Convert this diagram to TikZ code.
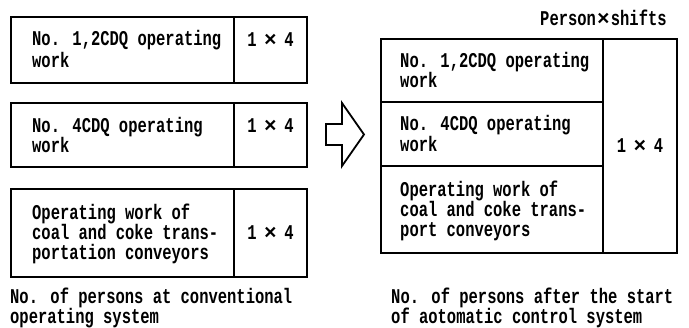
\documentclass[tikz,border=0pt]{standalone}
\usepackage{fontspec}
\setmainfont[FakeStretch=0.738]{Liberation Mono Bold}
\newfontfamily\xfont{Liberation Mono Bold}
\newlength\cw \setlength\cw{9.3pt}
\newcommand\mlines[2]{\vtop{\baselineskip=#1\lineskiplimit=-1000pt\lineskip=0pt\halign{##\hfil\cr #2\crcr}}}
\newcommand\tms[1]{\makebox[#1\cw]{\xfont\fontsize{21}{21}\selectfont ×}}
\begin{document}
\begin{tikzpicture}[x=1pt,y=-1pt,
  box/.style={draw,line width=1.8pt},
  divline/.style={draw,line width=1.4pt},
  txt/.style={anchor=base west,inner sep=0pt,font=\fontsize{21}{21}\selectfont},
  num/.style={anchor=base,inner sep=0pt,font=\fontsize{21}{21}\selectfont}]
\useasboundingbox (0,0) rectangle (689,328);
% left boxes
\draw[box] (11,17) rectangle (307,83);
\draw[divline] (234,17) -- (234,83);
\draw[box] (11,103) rectangle (307,167);
\draw[divline] (234,103) -- (234,167);
\draw[box] (11,189) rectangle (307,277);
\draw[divline] (234,189) -- (234,277);
\node[txt] (l1) at (32,46) {\mlines{22pt}{No. 1,2CDQ operating\cr work}};
\node[num] (l1n) at (270.5,46.5) {1\tms{3}4};
\node[txt] (l2) at (32,133) {\mlines{20pt}{No. 4CDQ operating\cr work}};
\node[num] (l2n) at (270.5,133) {1\tms{3}4};
\node[txt] (l3) at (32,220) {\mlines{20pt}{Operating work of\cr coal and coke trans-\cr portation conveyors}};
\node[num] (l3n) at (270.5,240) {1\tms{3}4};
% arrow
\draw[line width=1.8pt,line join=miter] (326,124) -- (342,124) -- (342,103) -- (364,134.5) -- (342,166) -- (342,145) -- (326,145) -- cycle;
% right box
\draw[box] (381,39) rectangle (677,253);
\draw[divline] (603,39) -- (603,253);
\draw[divline] (381,102) -- (603,102);
\draw[divline] (381,166) -- (603,166);
\node[txt] (r1) at (400,68) {\mlines{20pt}{No. 1,2CDQ operating\cr work}};
\node[txt] (r2) at (400,131) {\mlines{21pt}{No. 4CDQ operating\cr work}};
\node[txt] (r3) at (400,197) {\mlines{20pt}{Operating work of\cr coal and coke trans-\cr port conveyors}};
\node[num] (rn) at (640,153) {1\tms{3}4};
\node[txt] (unit) at (540,26) {Person\tms{1.6}shifts};
% captions
\node[txt] (c1) at (10,304) {\mlines{19.5pt}{No. of persons at conventional\cr operating system}};
\node[txt] (c2) at (391,304) {\mlines{19.5pt}{No. of persons after the start\cr of aotomatic control system}};
\end{tikzpicture}
\end{document}
